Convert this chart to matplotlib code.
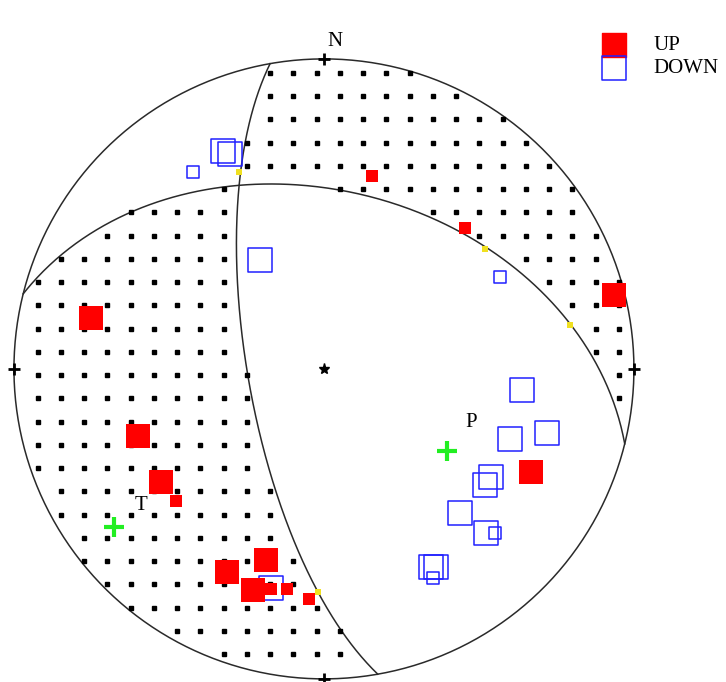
import matplotlib

matplotlib.use("Agg")
import matplotlib.pyplot as plt
import numpy as np


# nodal planes, strike / dip in degrees
PLANE_STRIKES = [170.0, 284.0]
PLANE_DIPS = [70.0, 42.0]

# P and T axes, trend / plunge in degrees
AXIS_NAMES = ["P", "T"]
AXIS_TRENDS = [123.5, 233.0]
AXIS_PLUNGES = [50.5, 16.5]

UP_EAST = [0.155, 0.455, 0.935, -0.752, -0.600, -0.526, -0.477, 0.668,
           -0.313, -0.187, -0.229, -0.171, -0.119, -0.048]
UP_NORTH = [0.623, 0.455, 0.239, 0.165, -0.216, -0.365, -0.426, -0.332,
            -0.655, -0.616, -0.713, -0.710, -0.710, -0.742]
UP_AMP = [1, 1, 2, 2, 2, 2, 1, 2, 2, 2, 2, 1, 1, 1]

DOWN_EAST = [-0.326, -0.303, -0.423, -0.206, 0.568, 0.639, 0.600, 0.719,
             0.539, 0.519, 0.439, 0.523, 0.552, 0.345, 0.361, 0.352, -0.171]
DOWN_NORTH = [0.703, 0.694, 0.635, 0.352, 0.297, -0.068, -0.226, -0.206,
              -0.348, -0.374, -0.465, -0.529, -0.529, -0.639, -0.639, -0.674, -0.706]
DOWN_AMP = [2, 2, 1, 2, 1, 2, 2, 2, 2, 2, 2, 2, 1, 2, 2, 1, 2]

# near-nodal readings
NODAL_EAST = [-0.274, -0.019, 0.794, 0.519]
NODAL_NORTH = [0.635, -0.719, 0.142, 0.387]


def project(trend, plunge):
    # lower hemisphere, equal area (Schmidt)
    t = np.radians(trend)
    p = np.radians(plunge)
    r = np.sqrt(2) * np.sin((np.pi / 2 - p) / 2)
    return r * np.sin(t), r * np.cos(t)


def great_circle(strike, dip):
    phi = np.radians(strike)
    d = np.radians(dip)
    lam = np.linspace(0, np.pi, 361)
    s_vec = np.array([np.cos(phi), np.sin(phi), 0.0])
    d_vec = np.array([np.cos(d) * np.cos(phi + np.pi / 2),
                      np.cos(d) * np.sin(phi + np.pi / 2), np.sin(d)])
    v = np.outer(np.cos(lam), s_vec) + np.outer(np.sin(lam), d_vec)
    trend = np.degrees(np.arctan2(v[:, 1], v[:, 0]))
    plunge = np.degrees(np.arcsin(np.clip(v[:, 2], -1, 1)))
    return project(trend, plunge)


def pole(strike, dip):
    phi = np.radians(strike - 90)
    d = np.radians(dip)
    return np.array([np.sin(d) * np.cos(phi), np.sin(d) * np.sin(phi), np.cos(d)])


def unproject(east, north):
    r = np.hypot(east, north)
    colat = 2 * np.arcsin(np.clip(r / np.sqrt(2), 0, 1))
    t = np.arctan2(east, north)
    return np.stack([np.sin(colat) * np.cos(t), np.sin(colat) * np.sin(t), np.cos(colat)], axis=-1)


fig = plt.figure(figsize=(7.26, 6.82), dpi=100)
ax = fig.add_axes([0, 0, 1, 1])
ax.set_xlim(-1.045, 1.297)
ax.set_ylim(-1.010, 1.190)
ax.set_aspect("equal")
ax.axis("off")

line_kw = dict(color="#2a2a2a", linewidth=1.1)
theta = np.linspace(0, 2 * np.pi, 400)
ax.plot(np.cos(theta), np.sin(theta), **line_kw)
for strike, dip in zip(PLANE_STRIKES, PLANE_DIPS):
    gx, gy = great_circle(strike, dip)
    ax.plot(gx, gy, **line_kw)

# compressional quadrants, dot pattern
n1 = pole(PLANE_STRIKES[0], PLANE_DIPS[0])
n2 = pole(PLANE_STRIKES[1], PLANE_DIPS[1])
tx, ty = project(AXIS_TRENDS[1], AXIS_PLUNGES[1])
t_sign = np.sign((unproject(tx, ty) @ n1) * (unproject(tx, ty) @ n2))
step = 0.075
gx, gy = np.meshgrid(-0.9235 + step * np.arange(26), 0.9548 - step * np.arange(26))
gx, gy = gx.ravel(), gy.ravel()
inside = np.hypot(gx, gy) < 0.995
vec = unproject(gx, gy)
comp = np.sign((vec @ n1) * (vec @ n2)) == t_sign
ax.plot(gx[inside & comp], gy[inside & comp], "s", color="black", markersize=3, linestyle="none")

# compass ticks and centre
ax.plot([0, 1, 0, -1], [1, 0, -1, 0], "+", color="black", markersize=9, markeredgewidth=2)
ax.plot(0, 0, "*", color="black", markersize=8)
ax.text(0.035, 1.055, "N", fontsize=15, family="Liberation Serif", ha="center", va="center")

# polarities
sz = {1: 8.5, 2: 17.5}
ax.scatter(DOWN_EAST, DOWN_NORTH, s=[sz[a] ** 2 for a in DOWN_AMP], marker="s",
           facecolors="none", edgecolors="#2020ff", linewidths=1.1, zorder=3)
ax.scatter(UP_EAST, UP_NORTH, s=[sz[a] ** 2 for a in UP_AMP], marker="s",
           color="#ff0000", linewidths=0, zorder=4)
ax.scatter(NODAL_EAST, NODAL_NORTH, s=14, marker="s", color="#f0e020", linewidths=0, zorder=5)

# P / T axes
label_offsets = [(17, 20), (19, 15)]
for name, trend, plunge, off in zip(AXIS_NAMES, AXIS_TRENDS, AXIS_PLUNGES, label_offsets):
    px, py = project(trend, plunge)
    ax.plot(px, py, "+", color="#22ee22", markersize=14, markeredgewidth=3, zorder=6)
    ax.annotate(name, (px, py), xytext=off, textcoords="offset points",
                fontsize=15, family="Liberation Serif", ha="center", va="center")

# legend
ax.scatter([0.846], [0.934], s=sz[2] ** 2, marker="s", color="#ff0000", transform=ax.transAxes)
ax.scatter([0.846], [0.900], s=sz[2] ** 2, marker="s", facecolors="none",
           edgecolors="#2020ff", linewidths=1.1, transform=ax.transAxes)
ax.text(0.900, 0.934, "UP", fontsize=15, family="Liberation Serif", va="center",
        transform=ax.transAxes)
ax.text(0.900, 0.900, "DOWN", fontsize=15, family="Liberation Serif", va="center",
        transform=ax.transAxes)

fig.savefig("out.png", dpi=100)
